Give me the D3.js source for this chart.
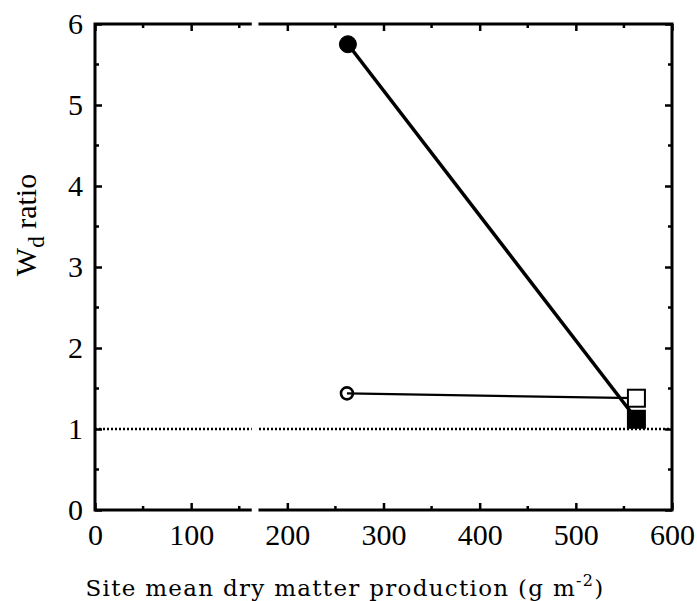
<!DOCTYPE html>
<html>
<head>
<meta charset="utf-8">
<script src="https://cdn.jsdelivr.net/npm/d3@7"></script>
<style>
  body { margin: 0; background: #fff; }
  .tick text { font-family: "Liberation Serif", "Times New Roman", serif; }
</style>
</head>
<body>
<div id="chart"></div>
<script>
// data
var xTicks = [0, 100, 200, 300, 400, 500, 600];
var yTicks = [0, 1, 2, 3, 4, 5, 6];
var xMinor = [50, 150, 250, 350, 450, 550];
var yMinor = [0.5, 1.5, 2.5, 3.5, 4.5, 5.5];
var axisBreak = [163, 170];       // white gap in top/bottom axis
var refLine = 1;                  // dotted line at ratio 1

var filledSeries = [{x: 263, y: 5.75, shape: "circle"}, {x: 563, y: 1.12, shape: "square"}];
var openSeries = [{x: 262, y: 1.44, shape: "circle"}, {x: 563, y: 1.38, shape: "square"}];

var width = 697, height = 601;
var margin = {top: 24, right: 25, bottom: 91, left: 95};

var svg = d3.select("#chart").append("svg")
    .attr("width", width)
    .attr("height", height);

var x = d3.scaleLinear().domain([0, 600]).range([margin.left, width - margin.right]);
var y = d3.scaleLinear().domain([0, 6]).range([height - margin.bottom, margin.top]);

var x0 = x(0), x1 = x(600), y0 = y(0), y1 = y(6);

// frame
svg.append("rect")
    .attr("x", x0).attr("y", y1)
    .attr("width", x1 - x0).attr("height", y0 - y1)
    .attr("fill", "none").attr("stroke", "#000").attr("stroke-width", 3);

// dotted reference line
svg.append("line")
    .attr("x1", x0).attr("x2", x1)
    .attr("y1", y(refLine)).attr("y2", y(refLine))
    .attr("stroke", "#000").attr("stroke-width", 2.5)
    .attr("stroke-dasharray", "2,2");

// bottom axis (ticks inward)
var bottomAxis = svg.append("g")
    .attr("transform", "translate(0," + y0 + ")")
    .call(d3.axisBottom(x).tickValues(xTicks).tickSize(-7).tickPadding(14).tickFormat(d3.format("d")));
bottomAxis.select(".domain").remove();
bottomAxis.selectAll(".tick line").attr("stroke-width", 2.5);
bottomAxis.selectAll(".tick text").attr("font-size", 30).attr("fill", "#000");

// top axis ticks
var topAxis = svg.append("g")
    .attr("transform", "translate(0," + y1 + ")")
    .call(d3.axisTop(x).tickValues(xTicks).tickSize(-7).tickFormat(""));
topAxis.select(".domain").remove();
topAxis.selectAll(".tick line").attr("stroke-width", 2.5);

// left axis
var leftAxis = svg.append("g")
    .attr("transform", "translate(" + x0 + ",0)")
    .call(d3.axisLeft(y).tickValues(yTicks).tickSize(-7).tickPadding(12).tickFormat(d3.format("d")));
leftAxis.select(".domain").remove();
leftAxis.selectAll(".tick line").attr("stroke-width", 2.5);
leftAxis.selectAll(".tick text").attr("font-size", 30).attr("fill", "#000");

// right axis ticks
var rightAxis = svg.append("g")
    .attr("transform", "translate(" + x1 + ",0)")
    .call(d3.axisRight(y).tickValues(yTicks).tickSize(-7).tickFormat(""));
rightAxis.select(".domain").remove();
rightAxis.selectAll(".tick line").attr("stroke-width", 2.5);

// minor ticks
[y0, y1].forEach(function (yy, i) {
    svg.append("g").selectAll("line").data(xMinor).enter().append("line")
        .attr("x1", d => x(d)).attr("x2", d => x(d))
        .attr("y1", yy).attr("y2", i === 0 ? yy - 4 : yy + 4)
        .attr("stroke", "#000").attr("stroke-width", 2.5);
});
[x0, x1].forEach(function (xx, i) {
    svg.append("g").selectAll("line").data(yMinor).enter().append("line")
        .attr("y1", d => y(d)).attr("y2", d => y(d))
        .attr("x1", xx).attr("x2", i === 0 ? xx + 4 : xx - 4)
        .attr("stroke", "#000").attr("stroke-width", 2.5);
});

// axis break gap
[y0, y1, y(refLine)].forEach(function (yy) {
    svg.append("rect")
        .attr("x", x(axisBreak[0])).attr("y", yy - 4)
        .attr("width", x(axisBreak[1]) - x(axisBreak[0])).attr("height", 8)
        .attr("fill", "#fff");
});

var line = d3.line().x(d => x(d.x)).y(d => y(d.y));

function marker(d, filled) {
    if (d.shape === "circle") {
        svg.append("circle")
            .attr("cx", x(d.x)).attr("cy", y(d.y)).attr("r", filled ? 8.5 : 6)
            .attr("fill", filled ? "#000" : "#fff")
            .attr("stroke", "#000").attr("stroke-width", filled ? 1 : 2.6);
    } else {
        var s = 17;
        svg.append("rect")
            .attr("x", x(d.x) - s / 2).attr("y", y(d.y) - s / 2)
            .attr("width", s).attr("height", s)
            .attr("fill", filled ? "#000" : "#fff")
            .attr("stroke", "#000").attr("stroke-width", 2);
    }
}

// open series: ring, then line into its centre, then square on top
marker(openSeries[0], false);
svg.append("path").datum(openSeries).attr("d", line)
    .attr("fill", "none").attr("stroke", "#000").attr("stroke-width", 2.2);
marker(openSeries[1], false);

// filled series
svg.append("path").datum(filledSeries).attr("d", line)
    .attr("fill", "none").attr("stroke", "#000").attr("stroke-width", 3.5);
filledSeries.forEach(d => marker(d, true));

// y axis title
var yt = svg.append("text")
    .attr("transform", "translate(36,225) rotate(-90)")
    .attr("text-anchor", "middle")
    .attr("font-family", "Liberation Serif, serif")
    .attr("font-size", 30);
yt.append("tspan").text("W");
yt.append("tspan").attr("dy", 8).attr("font-size", 23).text("d");
yt.append("tspan").attr("dy", -8).text(" ratio");

// x axis title
var xt = svg.append("text")
    .attr("x", 345).attr("y", 596)
    .attr("text-anchor", "middle")
    .attr("font-family", "DejaVu Serif, serif")
    .attr("font-size", 23)
    .attr("letter-spacing", 1.3);
xt.append("tspan").text("Site mean dry matter production (g m");
xt.append("tspan").attr("dy", -10).attr("font-size", 16).text("-2");
xt.append("tspan").attr("dy", 10).text(")");
</script>
</body>
</html>
